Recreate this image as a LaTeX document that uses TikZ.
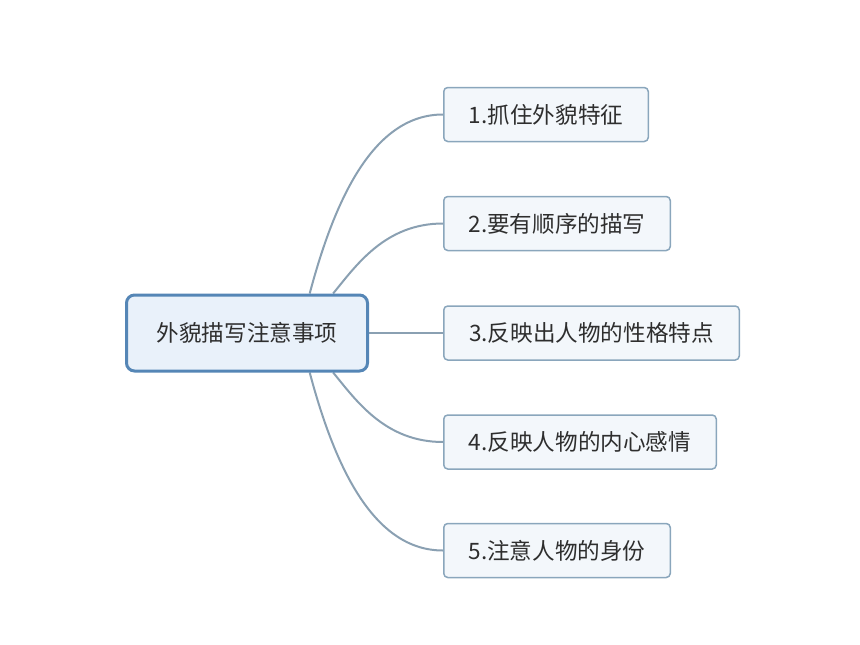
\documentclass[tikz,border=0pt]{standalone}
\usepackage{fontspec}
\setmainfont{Noto Sans CJK SC}
\usetikzlibrary{calc,backgrounds}
\definecolor{mainborder}{HTML}{5586B6}
\definecolor{mainfill}{HTML}{E9F1FA}
\definecolor{subborder}{HTML}{8AA6BC}
\definecolor{subfill}{HTML}{F3F7FB}
\definecolor{linkcol}{HTML}{8AA0B2}
\definecolor{txt}{HTML}{2E2E2E}
\tikzset{
  mainbox/.style={draw=mainborder, fill=mainfill, line width=3pt, rounded corners=8pt,
    minimum width=241pt, minimum height=76pt, inner sep=0pt, text=txt,
    font=\fontsize{22.6pt}{25pt}\selectfont},
  subbox/.style={draw=subborder, fill=subfill, line width=1.5pt, rounded corners=4pt,
    minimum height=54pt, inner sep=0pt, text=txt,
    font=\fontsize{22.6pt}{25pt}\selectfont},
  link/.style={draw=linkcol, line width=2pt}
}
\begin{document}
\begin{tikzpicture}[x=1pt,y=-1pt]
\useasboundingbox (0,0) rectangle (860,645);
\node[mainbox] (c) at (247,333) {外貌描写注意事项};
\node[subbox, minimum width=204.5pt] (n1) at (546,114.5) {1.抓住外貌特征};
\node[subbox, minimum width=226.5pt] (n2) at (557,223.5) {2.要有顺序的描写};
\node[subbox, minimum width=295.5pt] (n3) at (591.5,333) {3.反映出人物的性格特点};
\node[subbox, minimum width=272.5pt] (n4) at (580,442) {4.反映人物的内心感情};
\node[subbox, minimum width=226.5pt] (n5) at (557,550.5) {5.注意人物的身份};
\coordinate (t1) at ($(c.north west)!0.757!(c.north east)$);
\coordinate (t2) at ($(c.north west)!0.853!(c.north east)$);
\coordinate (b1) at ($(c.south west)!0.757!(c.south east)$);
\coordinate (b2) at ($(c.south west)!0.853!(c.south east)$);
\begin{scope}[on background layer]
\draw[link] (t1) .. controls +(26,-98) and +(-68,0) .. (n1.west);
\draw[link] (t2) .. controls +(23,-28) and +(-58,0) .. (n2.west);
\draw[link] (c.east) -- (n3.west);
\draw[link] (b2) .. controls +(23,28) and +(-58,0) .. (n4.west);
\draw[link] (b1) .. controls +(26,98) and +(-68,0) .. (n5.west);
\end{scope}
\end{tikzpicture}
\end{document}
